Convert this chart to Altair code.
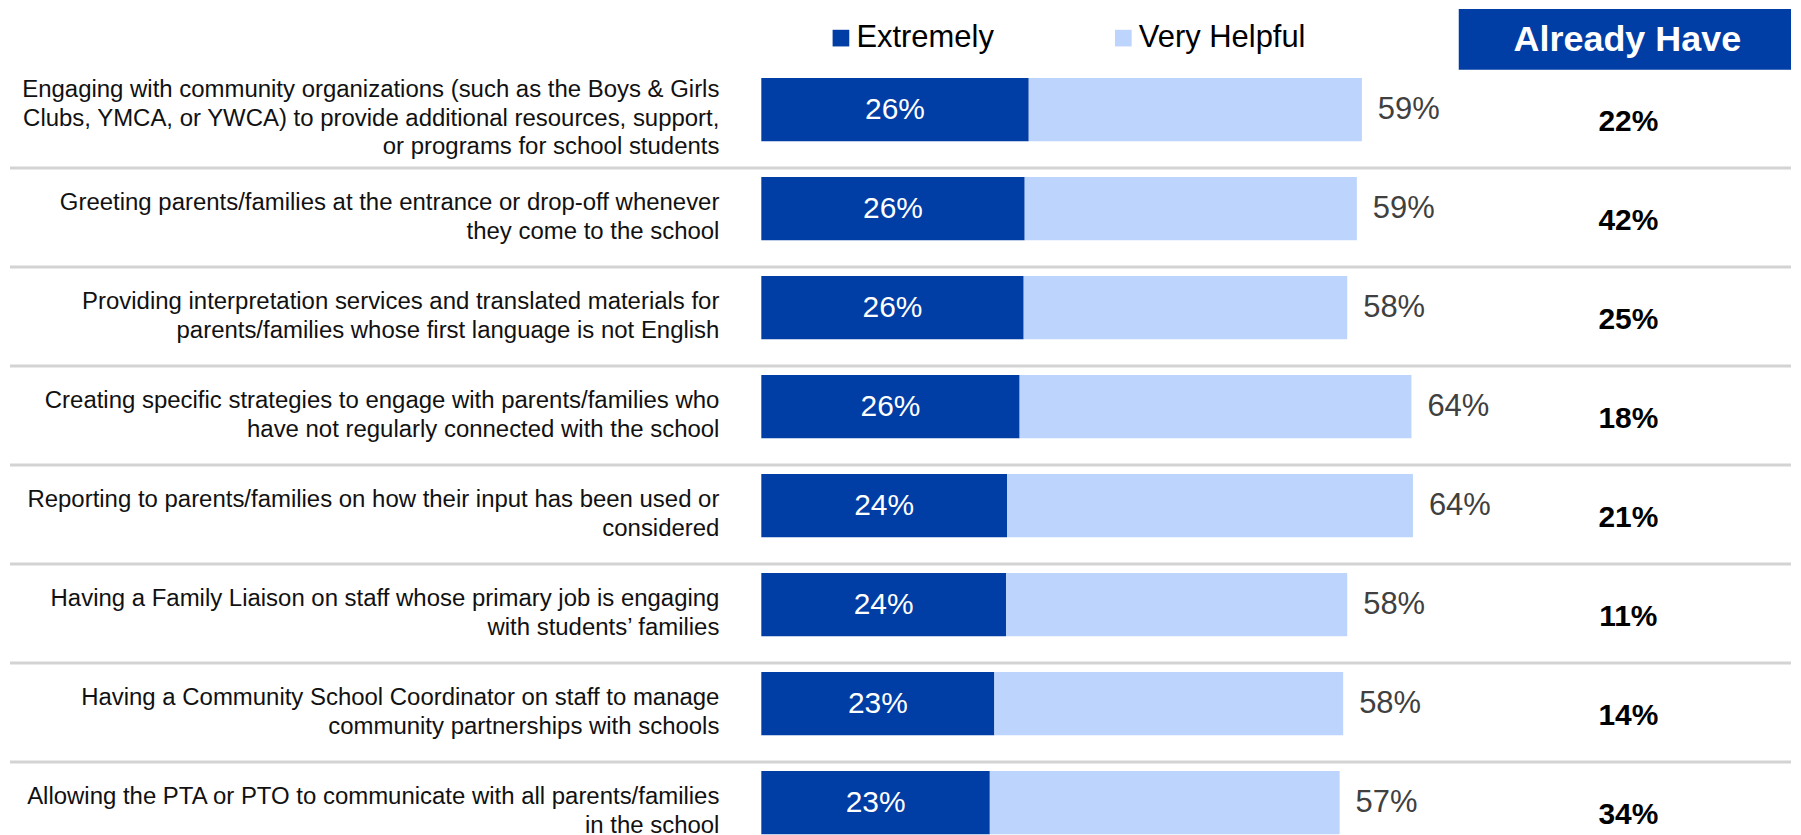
import altair as alt
import pandas as pd

items = [
    "Engaging with community organizations (such as the Boys & Girls\nClubs, YMCA, or YWCA) to provide additional resources, support,\nor programs for school students",
    "Greeting parents/families at the entrance or drop-off whenever\nthey come to the school",
    "Providing interpretation services and translated materials for\nparents/families whose first language is not English",
    "Creating specific strategies to engage with parents/families who\nhave not regularly connected with the school",
    "Reporting to parents/families on how their input has been used or\nconsidered",
    "Having a Family Liaison on staff whose primary job is engaging\nwith students\u2019 families",
    "Having a Community School Coordinator on staff to manage\ncommunity partnerships with schools",
    "Allowing the PTA or PTO to communicate with all parents/families\nin the school",
]
extremely = [26.45, 26.05, 25.95, 25.55, 24.3, 24.2, 23.05, 22.6]
very_helpful = [32.95, 32.85, 32.0, 38.75, 40.15, 33.75, 34.5, 34.6]
ext_labels = ["26%", "26%", "26%", "26%", "24%", "24%", "23%", "23%"]
total_labels = ["59%", "59%", "58%", "64%", "64%", "58%", "58%", "57%"]
already_have = ["22%", "42%", "25%", "18%", "21%", "11%", "14%", "34%"]
series = ["Extremely", "Very Helpful"]
colors = ["#003DA5", "#BDD5FC"]

FONT = "Liberation Sans"
W, H = 1785, 827
LINE_H = 28.7

rows = []
for i, it in enumerate(items):
    rows.append({"item": it, "series": series[0], "value": extremely[i], "order": 0})
    rows.append({"item": it, "series": series[1], "value": very_helpful[i], "order": 1})
df_long = pd.DataFrame(rows)

df = pd.DataFrame({
    "item": items,
    "idx": list(range(len(items))),
    "nlines": [it.count("\n") + 1 for it in items],
    "ext": extremely,
    "total": [e + v for e, v in zip(extremely, very_helpful)],
    "ext_label": ext_labels,
    "total_label": total_labels,
    "already": already_have,
})

xscale = alt.Scale(domain=[0, 100], range=[753, 1766.35], nice=False, zero=True)
yscale = alt.Scale(domain=items, range=[51.4, 845.0], paddingInner=0.361, paddingOuter=0.1805)
Y = alt.Y("item:N", scale=yscale, axis=None, sort=items)

bars = alt.Chart(df_long).mark_bar().encode(
    x=alt.X("value:Q", stack="zero", scale=xscale, axis=None),
    y=Y,
    color=alt.Color(
        "series:N",
        scale=alt.Scale(domain=series, range=colors),
        legend=alt.Legend(
            orient="none", legendX=817.3, legendY=13.5, direction="horizontal",
            title=None, symbolType="square", symbolSize=279, symbolStrokeWidth=0,
            labelFontSize=31, labelFont=FONT, labelColor="#000000", labelOffset=0,
            labelLimit=400, columnPadding=114, padding=0,
        ),
    ),
    order=alt.Order("order:Q"),
)

seps = alt.Chart(df).transform_filter("datum.idx > 0").mark_rule(
    color="#D3D3D3", strokeWidth=3, yOffset=-9
).encode(
    y=alt.Y("item:N", scale=yscale, axis=None, sort=items, bandPosition=0),
    x=alt.value(0),
    x2=alt.value(W),
)

ext_text = alt.Chart(df).transform_calculate(mid="datum.ext / 2").mark_text(
    font=FONT, fontSize=30, color="#FFFFFF", align="center", baseline="middle"
).encode(
    x=alt.X("mid:Q", scale=xscale, axis=None),
    y=Y,
    text="ext_label:N",
)

total_text = alt.Chart(df).mark_text(
    font=FONT, fontSize=31, color="#404040", align="left", baseline="middle", dx=16
).encode(
    x=alt.X("total:Q", scale=xscale, axis=None),
    y=Y,
    text="total_label:N",
)

already_text = alt.Chart(df).mark_text(
    font=FONT, fontSize=30, fontWeight="bold", color="#000000",
    align="center", baseline="middle", dy=12
).encode(
    x=alt.value(1622),
    y=Y,
    text="already:N",
)


def item_layer(n):
    return alt.Chart(df).transform_filter(f"datum.nlines == {n}").mark_text(
        font=FONT, fontSize=24, color="#111111", align="right", baseline="middle",
        dy=9 - (n - 1) / 2 * LINE_H, lineBreak="\n", lineHeight=LINE_H
    ).encode(
        x=alt.value(711),
        y=Y,
        text="item:N",
    )


item_text2 = item_layer(2)
item_text3 = item_layer(3)

header_df = pd.DataFrame({"label": ["Already Have"]})
header_box = alt.Chart(header_df).mark_rect(color="#003DA5").encode(
    x=alt.value(1452), x2=alt.value(W), y=alt.value(0), y2=alt.value(61)
)
header_text = alt.Chart(header_df).mark_text(
    font=FONT, fontSize=36, fontWeight="bold", color="#FFFFFF",
    align="center", baseline="middle"
).encode(
    x=alt.value(1621), y=alt.value(31), text="label:N"
)

chart = alt.layer(
    seps, bars, ext_text, total_text, already_text, item_text2, item_text3,
    header_box, header_text
).properties(
    width=W, height=H, padding=0, background="#FFFFFF"
).configure(font=FONT).configure_view(stroke=None)

chart.save("out.html", embed_options={"renderer": "svg", "actions": False})
